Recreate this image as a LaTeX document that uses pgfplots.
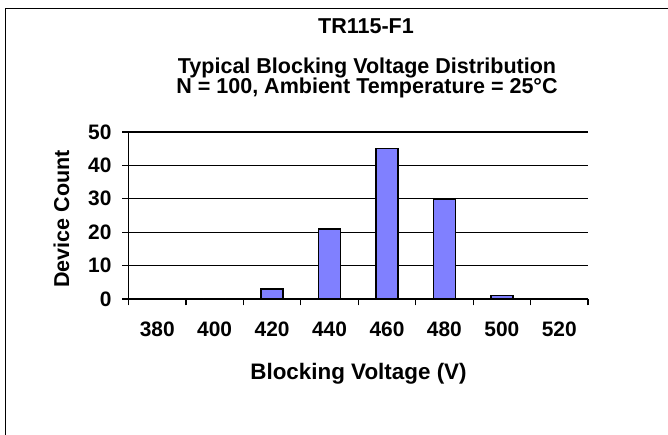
\documentclass[border=0pt]{standalone}
\usepackage{pgfplots}
\pgfplotsset{compat=1.18}
\usepackage{fontspec}
\setmainfont{Liberation Sans}
\definecolor{barblue}{RGB}{128,128,255}
\begin{document}
\begin{tikzpicture}[x=1bp,y=1bp]
\path[use as bounding box] (0bp,0bp) rectangle (668bp,435bp);
% outer frame (left and top edges only are in view)
\draw[line width=1.2bp] (5.5bp,0bp) -- (5.5bp,426.5bp) -- (668bp,426.5bp);
\begin{axis}[
  at={(128.5bp,136bp)}, anchor=south west,
  scale only axis, width=459.5bp, height=167bp,
  xmin=-0.5, xmax=7.5, ymin=0, ymax=50,
  axis lines*=left,
  axis line style={line width=1.4bp, black},
  ybar, bar width=22bp,
  xtick={-0.5,0.5,...,7.5},
  xticklabels={380,400,420,440,460,480,500,520,{}},
  xticklabel style={xshift=28.72bp, yshift=-13bp},
  ytick={0,10,...,50},
  yticklabel style={xshift=-7bp},
  ymajorgrids,
  grid style={black, line width=1.2bp},
  tick align=outside,
  major tick length=6.5bp,
  tick style={black, line width=1.2bp},
  ticklabel style={font=\fontsize{21}{25}\selectfont\bfseries},
  /pgf/number format/assume math mode=true,
]
\addplot[fill=barblue, draw=black, line width=1.6bp]
  coordinates {(0,0) (1,0) (2,3) (3,21) (4,45) (5,30) (6,1) (7,0)};
\end{axis}
\begin{scope}[every node/.style={font=\fontsize{21.6}{26}\selectfont\bfseries, inner sep=0pt}]
\node[anchor=base] at (366bp,401.7bp) {TR115-F1};
\node[anchor=base] at (367bp,361.7bp) {Typical Blocking Voltage Distribution};
\node[anchor=base] at (367bp,341bp) {N = 100, Ambient Temperature = 25°C};
\node[anchor=base, font=\fontsize{22.5}{27}\selectfont\bfseries] at (358.5bp,55bp) {Blocking Voltage (V)};
\node[anchor=base, rotate=90] at (69bp,216bp) {Device Count};
\end{scope}
\end{tikzpicture}
\end{document}
